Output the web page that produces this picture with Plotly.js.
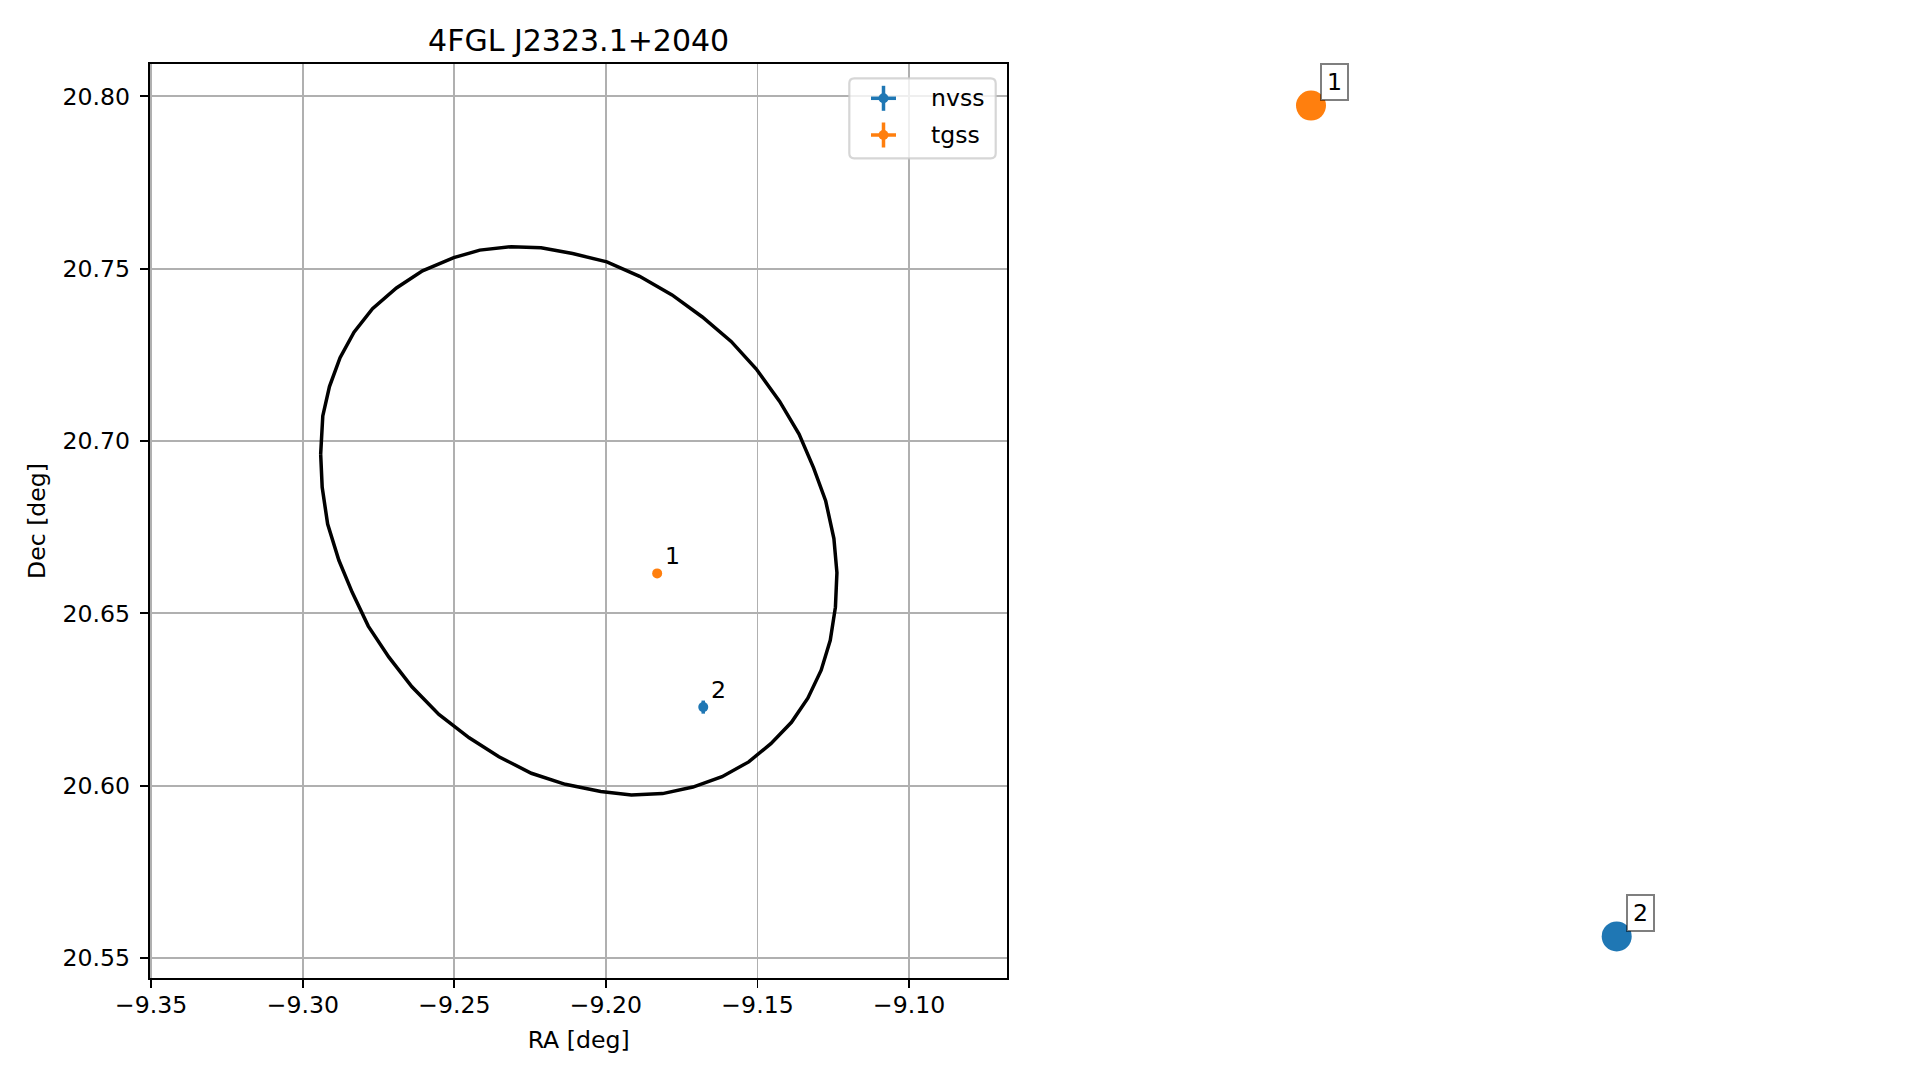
<!DOCTYPE html>
<html><head><meta charset="utf-8">
<script src="https://cdn.plot.ly/plotly-3.0.1.min.js"></script>
<style>html,body{margin:0;padding:0;background:#fff;}</style>
</head><body><div id="chart" style="width:1919px;height:1080px;"></div>
<script>
// ---------------- data ----------------
const chartTitle = '4FGL J2323.1+2040';
const xTitle = 'RA [deg]';
const yTitle = 'Dec [deg]';
const xTickVals = [-9.35, -9.30, -9.25, -9.20, -9.15, -9.10];
const yTickVals = [20.55, 20.60, 20.65, 20.70, 20.75, 20.80];
const xRange = [-9.3504, -9.0676];
const yRange = [20.5442, 20.8094];

const ellipseRA = [-9.2941,-9.2936,-9.2918,-9.2881,-9.2837,-9.2784,-9.2716,-9.2640,-9.2551,-9.2451,
  -9.2353,-9.2246,-9.2134,-9.2017,-9.1916,-9.1813,-9.1713,-9.1617,-9.1529,-9.1456,
  -9.1388,-9.1334,-9.1290,-9.1260,-9.1243,-9.1238,-9.1248,-9.1275,-9.1315,-9.1363,
  -9.1427,-9.1504,-9.1587,-9.1682,-9.1782,-9.1889,-9.1997,-9.2110,-9.2214,-9.2312,
  -9.2416,-9.2502,-9.2605,-9.2691,-9.2770,-9.2831,-9.2877,-9.2912,-9.2934,-9.2941];
const ellipseDec = [20.6962,20.6866,20.6759,20.6654,20.6561,20.6463,20.6373,20.6287,20.6207,20.6139,
  20.6084,20.6036,20.6004,20.5983,20.5973,20.5977,20.5996,20.6026,20.6069,20.6122,
  20.6184,20.6254,20.6335,20.6422,20.6518,20.6618,20.6717,20.6826,20.6922,20.7020,
  20.7115,20.7209,20.7289,20.7360,20.7424,20.7478,20.7520,20.7544,20.7561,20.7564,
  20.7554,20.7532,20.7494,20.7444,20.7384,20.7316,20.7242,20.7158,20.7073,20.6962];

const seriesNames = ['nvss', 'tgss'];
const nvssRA = [-9.1679];
const nvssDec = [20.6228];
const nvssRAerr = [0.0012];
const nvssDecErr = [0.0019];
const nvssLabels = ['2'];
const tgssRA = [-9.1831];
const tgssDec = [20.6616];
const tgssRAerr = [0.0008];
const tgssDecErr = [0.0008];
const tgssLabels = ['1'];

// ---------------- style / layout ----------------
const C_BLUE = '#1f77b4', C_ORANGE = '#ff7f0e';
const FONT = 'DejaVu Sans, Liberation Sans, sans-serif';
const FS = 23.6, FS_TITLE = 30;
const W = 1919, H = 1080, L = 150, R = 0, T = 64, B = 102;
const plotW = W - L - R, plotH = H - T - B;
const axL = 150, axR = 1007.3, axT = T, axB = H - B;
const ax2L = 1295.7, ax2R = 1632;
const px = p => (p - L) / plotW;          // pixel x -> paper
const py = p => (H - B - p) / plotH;       // pixel y -> paper

function padRange(vals) {
  const mn = Math.min(...vals), mx = Math.max(...vals), s = mx - mn;
  return [mn - 0.05 * s, mx + 0.05 * s];
}
const allRA = nvssRA.concat(tgssRA), allDec = nvssDec.concat(tgssDec);

const errStyle = (arr, col) => ({type: 'data', array: arr, visible: true, color: col, thickness: 3.5, width: 0});

const traces = [
  {x: ellipseRA, y: ellipseDec, type: 'scatter', mode: 'lines', line: {color: '#000', width: 3.5},
   showlegend: false, hoverinfo: 'skip', xaxis: 'x', yaxis: 'y'},
  {x: nvssRA, y: nvssDec, type: 'scatter', mode: 'markers', name: seriesNames[0],
   marker: {color: C_BLUE, size: 10}, error_x: errStyle(nvssRAerr, C_BLUE), error_y: errStyle(nvssDecErr, C_BLUE),
   showlegend: false, xaxis: 'x', yaxis: 'y'},
  {x: tgssRA, y: tgssDec, type: 'scatter', mode: 'markers', name: seriesNames[1],
   marker: {color: C_ORANGE, size: 10}, error_x: errStyle(tgssRAerr, C_ORANGE), error_y: errStyle(tgssDecErr, C_ORANGE),
   showlegend: false, xaxis: 'x', yaxis: 'y'},
  {x: nvssRA, y: nvssDec, type: 'scatter', mode: 'markers', name: seriesNames[0],
   marker: {color: C_BLUE, size: 30}, showlegend: false, xaxis: 'x2', yaxis: 'y2'},
  {x: tgssRA, y: tgssDec, type: 'scatter', mode: 'markers', name: seriesNames[1],
   marker: {color: C_ORANGE, size: 30}, showlegend: false, xaxis: 'x2', yaxis: 'y2'}
];

const annotations = [];
function addLabels(xs, ys, labels) {
  labels.forEach((t, i) => {
    annotations.push({x: xs[i], y: ys[i], xref: 'x', yref: 'y', text: t, showarrow: false,
      xshift: 15.4, yshift: 17.3, xanchor: 'center', yanchor: 'middle',
      font: {family: FONT, size: FS, color: '#000'}});
    annotations.push({x: xs[i], y: ys[i], xref: 'x2', yref: 'y2', text: t, showarrow: false,
      xshift: 23.5, yshift: 23.2, xanchor: 'center', yanchor: 'middle',
      width: 21, height: 30, borderpad: 2, borderwidth: 2,
      bordercolor: 'rgba(0,0,0,0.5)', bgcolor: '#ffffff',
      font: {family: FONT, size: FS, color: '#000'}});
  });
}
addLabels(tgssRA, tgssDec, tgssLabels);
addLabels(nvssRA, nvssDec, nvssLabels);

// manual matplotlib-like legend
const shapes = [];
const lgL = 849.3, lgR = 995.7, lgT = 78.3, lgB = 158.3, rr = 5;
const rx = rr / plotW, ry = rr / plotH;
const X0 = px(lgL), X1 = px(lgR), Y0 = py(lgB), Y1 = py(lgT);
shapes.push({type: 'path', xref: 'paper', yref: 'paper', layer: 'above',
  path: `M ${X0 + rx} ${Y1} L ${X1 - rx} ${Y1} Q ${X1} ${Y1} ${X1} ${Y1 - ry} L ${X1} ${Y0 + ry} Q ${X1} ${Y0} ${X1 - rx} ${Y0} L ${X0 + rx} ${Y0} Q ${X0} ${Y0} ${X0} ${Y0 + ry} L ${X0} ${Y1 - ry} Q ${X0} ${Y1} ${X0 + rx} ${Y1} Z`,
  fillcolor: 'rgba(255,255,255,0.8)', line: {color: 'rgba(204,204,204,0.8)', width: 2.2}});
const legendRows = [[seriesNames[0], C_BLUE, 98.3], [seriesNames[1], C_ORANGE, 135]];
legendRows.forEach(([nm, col, yc]) => {
  const cx = 883.5;
  shapes.push({type: 'line', xref: 'paper', yref: 'paper', layer: 'above', x0: px(cx - 12.5), x1: px(cx + 12.5), y0: py(yc), y1: py(yc), line: {color: col, width: 3.5}});
  shapes.push({type: 'line', xref: 'paper', yref: 'paper', layer: 'above', x0: px(cx), x1: px(cx), y0: py(yc - 12.5), y1: py(yc + 12.5), line: {color: col, width: 3.5}});
  shapes.push({type: 'circle', xref: 'paper', yref: 'paper', layer: 'above', x0: px(cx - 5), x1: px(cx + 5), y0: py(yc + 5), y1: py(yc - 5), fillcolor: col, line: {width: 0}});
  annotations.push({x: px(930), y: py(yc), xref: 'paper', yref: 'paper', text: nm, showarrow: false,
    xanchor: 'left', yanchor: 'middle', borderpad: 0, font: {family: FONT, size: FS, color: '#000'}});
});

const axisCommon = {
  showline: true, linecolor: '#000', linewidth: 1.9, mirror: true,
  ticks: 'outside', ticklen: 8.3, tickwidth: 1.9, tickcolor: '#000',
  showgrid: true, gridcolor: '#b0b0b0', gridwidth: 1.9, zeroline: false,
  tickfont: {family: FONT, size: FS, color: '#000'}, tickformat: '.2f', tickmode: 'array'
};

const layout = {
  width: W, height: H, paper_bgcolor: '#fff', plot_bgcolor: 'rgba(0,0,0,0)',
  margin: {l: L, r: R, t: T, b: B, pad: 0},
  font: {family: FONT, size: FS, color: '#000'},
  showlegend: false,
  title: {text: chartTitle, font: {family: FONT, size: FS_TITLE, color: '#000'},
    x: px((axL + axR) / 2), xref: 'paper', xanchor: 'center', y: 1 - 40 / H, yref: 'container', yanchor: 'middle'},
  xaxis: Object.assign({}, axisCommon, {domain: [0, px(axR)], range: xRange, tickvals: xTickVals, anchor: 'y',
    ticklabelstandoff: -4,
    title: {text: xTitle, font: {family: FONT, size: FS, color: '#000'}, standoff: 14}}),
  yaxis: Object.assign({}, axisCommon, {domain: [0, 1], range: yRange, tickvals: yTickVals, anchor: 'x',
    ticklabelstandoff: 5,
    title: {text: yTitle, font: {family: FONT, size: FS, color: '#000'}, standoff: 10}}),
  xaxis2: {domain: [px(ax2L), px(ax2R)], range: padRange(allRA), visible: false, anchor: 'y2', fixedrange: true},
  yaxis2: {domain: [0, 1], range: padRange(allDec), visible: false, anchor: 'x2', fixedrange: true},
  shapes: shapes,
  annotations: annotations
};

Plotly.newPlot('chart', traces, layout, {staticPlot: true, displayModeBar: false});
</script>
</body></html>
